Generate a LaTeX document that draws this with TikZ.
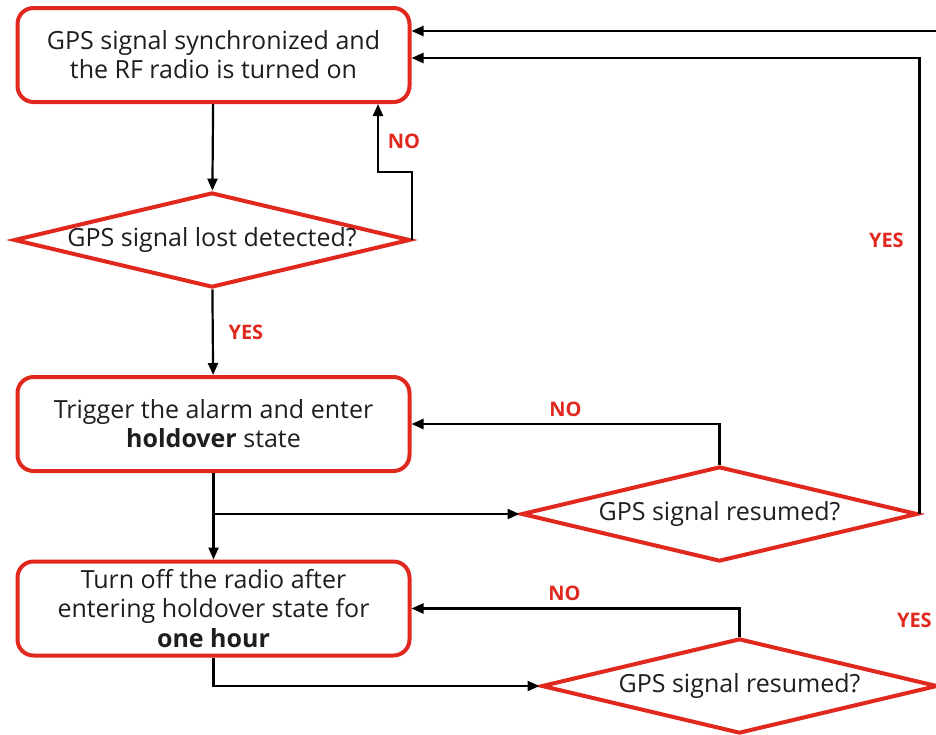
\documentclass[tikz,border=0pt]{standalone}
\usepackage{fontspec}
\setmainfont{Open Sans}
\usetikzlibrary{arrows.meta,positioning,shapes.geometric,calc}
\definecolor{fred}{HTML}{E0281E}
\definecolor{ftext}{HTML}{1E1E1E}

\begin{document}
\begin{tikzpicture}[
  x=0.5pt, y=0.5pt,
  box/.style={draw=fred, line width=2pt, rounded corners=8pt, minimum width=196pt, minimum height=47pt, align=center, text=ftext, font=\fontsize{12.5pt}{14.6pt}\selectfont, inner sep=0pt},
  dec/.style={draw=fred, line width=2pt, diamond, shape aspect=4.2, minimum width=198pt, minimum height=47.5pt, inner xsep=-6pt, inner ysep=0pt, text=ftext, font=\fontsize{12.5pt}{14.6pt}\selectfont},
  arr/.style={-{Triangle[length=6pt,width=5pt]}, line width=1.1pt},
  lbl/.style={font=\fontsize{10pt}{12pt}\selectfont\bfseries, text=fred},
]
  \clip (0,0) rectangle (936,-734);

  % Left column: process boxes
  \node[box] (sync) at (213.5,-55) {GPS signal synchronized and\\the RF radio is turned on};
  \node[dec] (lost) at (212,-240) {GPS signal lost detected?};
  \node[box] (hold) at (213.5,-424) {Trigger the alarm and enter\\\textbf{holdover} state};
  \node[box] (off) at (213.5,-608.5) {Turn off the radio after\\entering holdover state for\\\textbf{one hour}};

  % Right column: resume checks
  \node[dec] (res1) at (719.5,-514) {GPS signal resumed?};
  \node[dec] (res2) at (739.5,-686) {GPS signal resumed?};

  \coordinate (nolost) at (378,-172);
  \coordinate (split) at (hold.south |- res1.west);

  \draw[arr] (sync) -- (lost);
  \draw[arr] (lost.east) |- (nolost) -- node[lbl, right=1pt, pos=0.45] {NO} (nolost |- sync.south);
  \draw[arr] (lost) -- node[lbl, right=4pt] {YES} (hold);
  \draw[arr] (hold) -- (off);
  \draw[arr] (split) -- (res1);
  \draw[arr] (res1.north) |- node[lbl, above=0pt, pos=0.75] {NO} (hold.east);
  \draw[arr] (res1.east) |- node[lbl, left=4pt, pos=0.3] {YES} ([yshift=-1.5pt]sync.east);
  \draw[arr] (off.south) |- (res2.west);
  \draw[arr] (res2.north) |- node[lbl, above=0pt, pos=0.767] {NO} (off.east);
  \draw[arr] (res2.east) |- node[lbl, left=0pt, pos=0.05] {YES} ([yshift=12pt]sync.east);
\end{tikzpicture}
\end{document}
